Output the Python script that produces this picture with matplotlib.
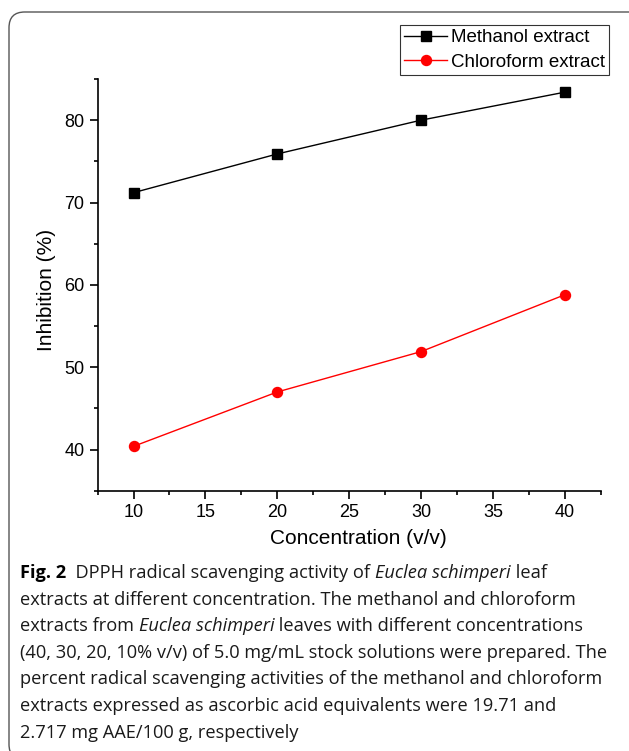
import matplotlib
matplotlib.use("Agg")
import matplotlib.pyplot as plt
from matplotlib.patches import FancyBboxPatch
from matplotlib.ticker import MultipleLocator

concentration = [10, 20, 30, 40]
methanol = [71.2, 75.9, 80.0, 83.4]
chloroform = [40.4, 47.0, 51.9, 58.8]
series_names = ["Methanol extract", "Chloroform extract"]
x_label = "Concentration (v/v)"
y_label = "Inhibition (%)"

caption_lines = [
    [("Fig. 2", "bold"), ("  DPPH radical scavenging activity of ", "normal"), ("Euclea schimperi", "italic"), (" leaf", "normal")],
    [("extracts at different concentration. The methanol and chloroform", "normal")],
    [("extracts from ", "normal"), ("Euclea schimperi", "italic"), (" leaves with different concentrations", "normal")],
    [("(40, 30, 20, 10% v/v) of 5.0 mg/mL stock solutions were prepared. The", "normal")],
    [("percent radical scavenging activities of the methanol and chloroform", "normal")],
    [("extracts expressed as ascorbic acid equivalents were 19.71 and", "normal")],
    [("2.717 mg AAE/100 g, respectively", "normal")],
]

W, H = 629, 751
fig = plt.figure(figsize=(W / 100, H / 100), dpi=100)
fig.patch.set_facecolor("white")

# rounded border
border = FancyBboxPatch((9 / W, 1 - 760 / H), 640 / W, 748 / H,
                        boxstyle="round,pad=0,rounding_size=0.025",
                        transform=fig.transFigure, fill=False,
                        edgecolor="#555555", linewidth=1.0, mutation_aspect=W / H)
fig.patches.append(border)

ax = fig.add_axes([97.6 / W, 1 - 490.8 / H, (600.7 - 97.6) / W, (490.8 - 79) / H])
ax.plot(concentration, methanol, color="black", lw=1.0, marker="s", ms=7,
        label=series_names[0])
ax.plot(concentration, chloroform, color="#ff0000", lw=1.0, marker="o", ms=7.2,
        label=series_names[1])
ax.set_xlim(7.5, 42.5)
ax.set_ylim(35, 85)
ax.xaxis.set_major_locator(MultipleLocator(5))
ax.xaxis.set_minor_locator(MultipleLocator(2.5))
ax.yaxis.set_major_locator(MultipleLocator(10))
ax.yaxis.set_minor_locator(MultipleLocator(5))
for s in ["top", "right"]:
    ax.spines[s].set_visible(False)
for s in ["left", "bottom"]:
    ax.spines[s].set_linewidth(1.2)
ax.tick_params(which="major", direction="out", length=5.5, width=1.2,
               labelsize=13, pad=4)
ax.tick_params(which="minor", direction="out", length=3, width=1.2)
for lab in ax.get_xticklabels() + ax.get_yticklabels():
    lab.set_family("Liberation Sans")
ax.set_xlabel(x_label, fontsize=15, family="Liberation Sans", labelpad=6)
ax.set_ylabel(y_label, fontsize=15, family="Liberation Sans", labelpad=6)
ax.xaxis.label.set_x((358 - 97.6) / (600.7 - 97.6))
ax.yaxis.label.set_y((490.8 - 290) / (490.8 - 79))

leg = fig.legend(loc="upper right", bbox_to_anchor=(609 / W, 1 - 25 / H),
                 prop={"family": "Liberation Sans", "size": 13.5},
                 frameon=True, fancybox=False, edgecolor="black",
                 borderpad=0.22, labelspacing=0.4, handlelength=2.3,
                 handletextpad=0.2, borderaxespad=0)
leg.get_frame().set_linewidth(0.8)

# caption
renderer = fig.canvas.get_renderer()
cap_font = "Open Sans"
size = 12.0
probe = fig.text(0, 0, caption_lines[3][0][0], fontsize=size, family=cap_font)
w = probe.get_window_extent(renderer).width
probe.remove()
size = size * 585.0 / w

x0 = 20
y_first = 573
spacing = 26.6
for i, line in enumerate(caption_lines):
    x = x0
    y = y_first + i * spacing
    for txt, style in line:
        kw = dict(fontsize=size, family=cap_font, va="center", ha="left",
                  color="#1a1a1a")
        if style == "bold":
            kw["fontweight"] = "bold"
            kw["color"] = "black"
        elif style == "italic":
            kw["fontstyle"] = "italic"
        t = fig.text(x / W, 1 - y / H, txt, **kw)
        bb = t.get_window_extent(renderer)
        x += bb.width

fig.savefig("out.png", dpi=100, facecolor="white")
